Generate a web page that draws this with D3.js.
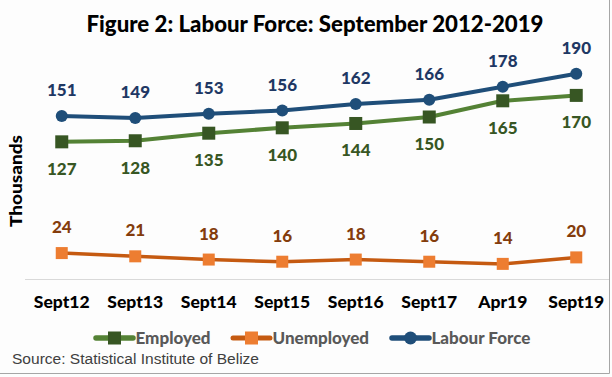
<!DOCTYPE html>
<html>
<head>
<meta charset="utf-8">
<script src="https://cdn.jsdelivr.net/npm/d3@7"></script>
<style>
  body { margin: 0; background: #fff; }
  svg { display: block; }
</style>
</head>
<body>
<div id="chart"></div>
<script>
var width = 612,
    height = 377

var categories = ["Sept12", "Sept13", "Sept14", "Sept15", "Sept16", "Sept17", "Apr19", "Sept19"];
var labourForce = [151, 149, 153, 156, 162, 166, 178, 190];
var employed = [127, 128, 135, 140, 144, 150, 165, 170];
var unemployed = [24, 21, 18, 16, 18, 16, 14, 20];
var yDomain = [0, 200];

var heavy = 900;

var svg = d3.select("#chart").append("svg")
    .attr("width", width)
    .attr("height", height)
    .style("font-family", "Lato, 'Open Sans', sans-serif");

svg.append("rect")
  .attr("width", width)
  .attr("height", height)
  .attr("fill", "#fdfdfd");

// border on right and bottom
svg.append("line")
  .attr("x1", 609.5).attr("x2", 609.5)
  .attr("y1", 0).attr("y2", 373.5)
  .attr("stroke", "#a6a6a6");
svg.append("line")
  .attr("x1", 0).attr("x2", 609.5)
  .attr("y1", 373.5).attr("y2", 373.5)
  .attr("stroke", "#a6a6a6");

var x = d3.scaleBand()
  .domain(categories)
  .range([25, 613]);

var y = d3.scaleLinear()
  .domain(yDomain)
  .range([279, 63]);

var cx = d => x(d) + x.bandwidth() / 2;

// x axis
var xAxis = g => g
  .attr("transform", "translate(0,279)")
  .call(d3.axisBottom(x).tickSize(0).tickPadding(17))
  .call(g => g.select(".domain").attr("stroke", "#d9d9d9").attr("d", "M25,0.5H609"))
  .call(g => g.selectAll("text")
      .attr("font-family", "Lato, sans-serif")
      .attr("font-size", 17.5)
      .attr("font-weight", heavy)
      .attr("fill", "#000"));

svg.append("g").call(xAxis);

var series = [
  {name: "Employed", values: employed, line: "#548235", marker: "#375623", label: "#375623", shape: "square", size: 13, width: 4, dy: 33},
  {name: "Unemployed", values: unemployed, line: "#c55a11", marker: "#ed7d31", label: "#843c0c", shape: "square", size: 12, width: 3.5, dy: -20},
  {name: "Labour Force", values: labourForce, line: "#1f4e79", marker: "#1f4e79", label: "#1f3864", shape: "circle", size: 12, width: 4, dy: -20}
];

var line = d3.line()
  .x((d, i) => cx(categories[i]))
  .y(d => y(d));

series.forEach(function(s) {
  svg.append("path")
    .datum(s.values)
    .attr("fill", "none")
    .attr("stroke", s.line)
    .attr("stroke-width", s.width)
    .attr("stroke-linejoin", "round")
    .attr("d", line);

  if (s.shape == "circle") {
    svg.append("g").selectAll("circle")
      .data(s.values).enter()
      .append("circle")
      .attr("cx", (d, i) => cx(categories[i]))
      .attr("cy", d => y(d))
      .attr("r", s.size / 2)
      .attr("fill", s.marker);
  } else {
    svg.append("g").selectAll("rect")
      .data(s.values).enter()
      .append("rect")
      .attr("x", (d, i) => cx(categories[i]) - s.size / 2)
      .attr("y", d => y(d) - s.size / 2)
      .attr("width", s.size)
      .attr("height", s.size)
      .attr("fill", s.marker);
  }

  svg.append("g").selectAll("text")
    .data(s.values).enter()
    .append("text")
    .attr("x", (d, i) => cx(categories[i]))
    .attr("y", d => y(d) + s.dy)
    .attr("text-anchor", "middle")
    .attr("font-size", 17)
    .attr("font-weight", heavy)
    .attr("fill", s.label)
    .text(d => d);
});

// title
svg.append("text")
  .attr("x", 315)
  .attr("y", 32)
  .attr("text-anchor", "middle")
  .attr("font-size", 22)
  .attr("font-weight", heavy)
  .attr("fill", "#000")
  .attr("textLength", 457)
  .attr("lengthAdjust", "spacingAndGlyphs")
  .text("Figure 2: Labour Force: September 2012-2019");

// y axis title
svg.append("text")
  .attr("transform", "translate(22,181) rotate(-90)")
  .attr("text-anchor", "middle")
  .attr("font-size", 17)
  .attr("font-weight", heavy)
  .attr("fill", "#000")
  .attr("textLength", 92)
  .attr("lengthAdjust", "spacingAndGlyphs")
  .text("Thousands");

// legend
var legendX = [96, 233, 392];
series.forEach(function(s, i) {
  var g = svg.append("g").attr("transform", "translate(" + legendX[i] + ",338)");
  g.append("line")
    .attr("x1", 0).attr("x2", 37)
    .attr("stroke", s.line)
    .attr("stroke-width", s.width + 1.5)
    .attr("stroke-linecap", "round");
  if (s.shape == "circle") {
    g.append("circle").attr("cx", 18.5).attr("r", 6.5).attr("fill", s.marker);
  } else {
    g.append("rect").attr("x", 12).attr("y", -6.5).attr("width", 13).attr("height", 13).attr("fill", s.marker);
  }
  g.append("text")
    .attr("x", 39.5)
    .attr("y", 6)
    .attr("font-size", 17)
    .attr("font-weight", heavy)
    .attr("fill", "#595959")
    .text(s.name);
});

// source
svg.append("text")
  .attr("x", 12)
  .attr("y", 364)
  .attr("font-family", "'Liberation Sans', Arial, sans-serif")
  .attr("font-size", 14)
  .attr("fill", "#404040")
  .attr("textLength", 247)
  .attr("lengthAdjust", "spacingAndGlyphs")
  .text("Source: Statistical Institute of Belize");
</script>
</body>
</html>
